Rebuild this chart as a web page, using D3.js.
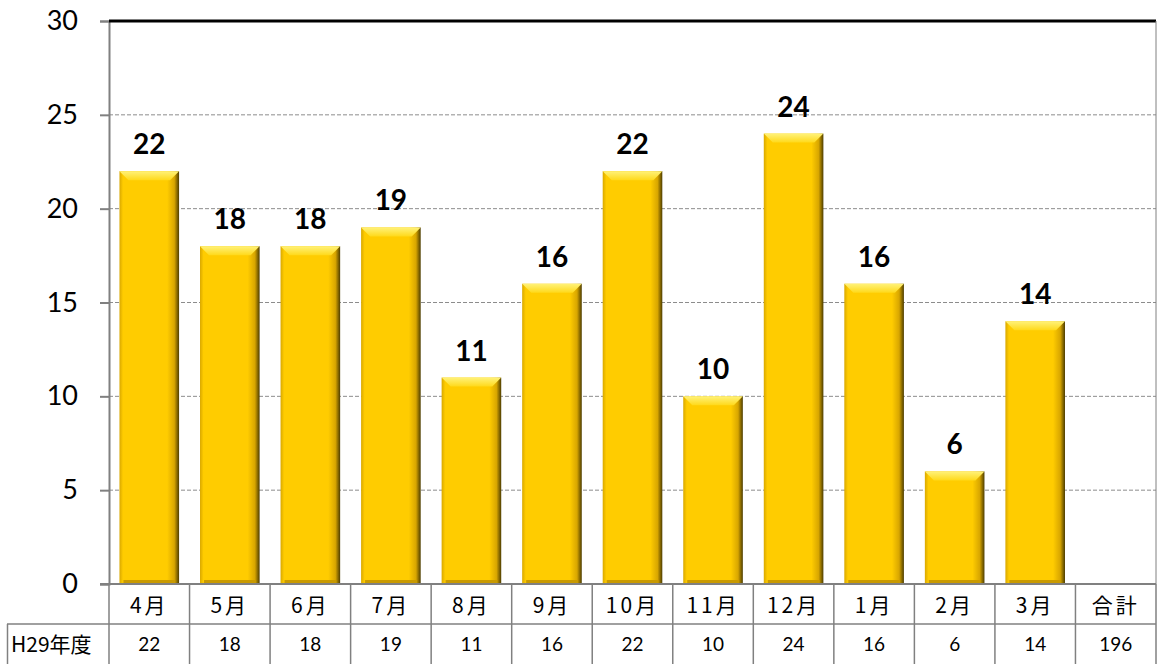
<!DOCTYPE html>
<html>
<head>
<meta charset="utf-8">
<script src="https://cdn.jsdelivr.net/npm/d3@7"></script>
<style>
body { margin: 0; background: #fff; }
text { font-family: Lato, "Noto Sans CJK JP", sans-serif; }
</style>
</head>
<body>
<script>
// chart data
var months = ['4月','5月','6月','7月','8月','9月','10月','11月','12月','1月','2月','3月'];
var counts = [22,18,18,19,11,16,22,10,24,16,6,14];
var tableCols = months.concat(['合計']);
var tableVals = counts.concat([196]);
var rowLabel = 'H29年度';
var yTicks = [0,5,10,15,20,25,30];

var W = 1157, H = 664;
var pLeft = 109, pRight = 1156, pTop = 21, pBottom = 584;

var svg = d3.select('body').append('svg').attr('width', W).attr('height', H);

var defs = svg.append('defs');
var g1 = defs.append('linearGradient').attr('id','barFill').attr('x1','0').attr('x2','1').attr('y1','0').attr('y2','0');
[['0%','#d9a800'],['6%','#ffcc00'],['80%','#ffcc00'],['92%','#d8a600'],['100%','#4d3d00']].forEach(function(s){
  g1.append('stop').attr('offset', s[0]).attr('stop-color', s[1]);
});
var g2 = defs.append('linearGradient').attr('id','bevel').attr('x1','0').attr('x2','0').attr('y1','0').attr('y2','1');
[['0%','#fff27a'],['100%','#ffd91a']].forEach(function(s){
  g2.append('stop').attr('offset', s[0]).attr('stop-color', s[1]);
});

var x = d3.scaleBand().domain(tableCols).range([pLeft, pRight]).paddingInner(0).paddingOuter(0);
var y = d3.scaleLinear().domain([0, 30]).range([pBottom, pTop]);

// gridlines
svg.append('g').selectAll('line').data(yTicks.filter(function(d){ return d > 0 && d < 30; }))
  .enter().append('line')
  .attr('x1', pLeft).attr('x2', pRight)
  .attr('y1', function(d){ return y(d); }).attr('y2', function(d){ return y(d); })
  .attr('stroke', '#8c8c8c').attr('stroke-width', 1).attr('stroke-dasharray', '4,2');

// y axis
var yAxis = svg.append('g').attr('transform', 'translate(' + pLeft + ',0)')
  .call(d3.axisLeft(y).tickValues(yTicks).tickSize(9).tickPadding(22));
yAxis.select('.domain').attr('stroke', '#808080').attr('stroke-width', 2);
yAxis.selectAll('.tick line').attr('stroke', '#808080').attr('stroke-width', 2);
yAxis.selectAll('.tick text').attr('font-size', 27).attr('fill', '#000')
  .style('font-family', 'Lato, sans-serif');

// top border and right border
svg.append('line').attr('x1', pLeft).attr('x2', pRight).attr('y1', pTop).attr('y2', pTop)
  .attr('stroke', '#000').attr('stroke-width', 3);
svg.append('line').attr('x1', pRight).attr('x2', pRight).attr('y1', pTop).attr('y2', pBottom)
  .attr('stroke', '#808080').attr('stroke-width', 1);

// bars
var bw = x.bandwidth() * 0.74;
var bars = svg.append('g').selectAll('g').data(counts).enter().append('g')
  .attr('transform', function(d, i){ return 'translate(' + (x(months[i]) + (x.bandwidth() - bw) / 2) + ',0)'; });

bars.append('rect')
  .attr('x', 0).attr('width', bw)
  .attr('y', function(d){ return y(d); })
  .attr('height', function(d){ return pBottom - y(d); })
  .attr('fill', 'url(#barFill)');

// top bevel
bars.append('path')
  .attr('d', function(d){
    var t = y(d), b = 9;
    return 'M0,' + t + 'L' + bw + ',' + t + 'L' + (bw - b) + ',' + (t + b) + 'L' + b + ',' + (t + b) + 'Z';
  })
  .attr('fill', 'url(#bevel)');
// bottom shade
bars.append('rect').attr('x', 4).attr('width', bw - 8)
  .attr('y', pBottom - 4).attr('height', 4).attr('fill', '#c99a00');

// value labels
bars.append('text')
  .attr('x', bw / 2).attr('y', function(d){ return y(d) - 17; })
  .attr('text-anchor', 'middle')
  .attr('font-size', 28).attr('font-weight', 'bold').attr('fill', '#000')
  .text(function(d){ return d; });

// x axis line
svg.append('line').attr('x1', pLeft - 9).attr('x2', pRight).attr('y1', pBottom).attr('y2', pBottom)
  .attr('stroke', '#808080').attr('stroke-width', 2);

// data table
var tbl = svg.append('g');
var rowH = 40;
tbl.append('line').attr('x1', 7).attr('x2', pRight).attr('y1', pBottom + rowH).attr('y2', pBottom + rowH)
  .attr('stroke', '#808080').attr('stroke-width', 1.5);
tbl.append('line').attr('x1', 7.5).attr('x2', 7.5).attr('y1', pBottom + rowH).attr('y2', H)
  .attr('stroke', '#808080').attr('stroke-width', 1.5);
tbl.selectAll('.vsep').data(tableCols.concat(['end'])).enter().append('line')
  .attr('x1', function(d){ return d === 'end' ? pRight : x(d); })
  .attr('x2', function(d){ return d === 'end' ? pRight : x(d); })
  .attr('y1', pBottom).attr('y2', H)
  .attr('stroke', '#808080').attr('stroke-width', 1.5);

tbl.selectAll('.hdr').data(tableCols).enter().append('text')
  .attr('x', function(d){ return x(d) + x.bandwidth() / 2; })
  .attr('y', pBottom + 29)
  .attr('text-anchor', 'middle').attr('font-size', 21).attr('letter-spacing', 3)
  .style('font-family', '"Noto Sans CJK JP", sans-serif')
  .text(function(d){ return d; });

tbl.selectAll('.val').data(tableVals).enter().append('text')
  .attr('x', function(d, i){ return x(tableCols[i]) + x.bandwidth() / 2; })
  .attr('y', pBottom + rowH + 27)
  .attr('text-anchor', 'middle').attr('font-size', 19)
  .text(function(d){ return d; });

tbl.append('text').attr('x', 11).attr('y', pBottom + rowH + 28)
  .attr('font-size', 21)
  .style('font-family', '"Noto Sans CJK JP", sans-serif')
  .text(rowLabel);
</script>
</body>
</html>
